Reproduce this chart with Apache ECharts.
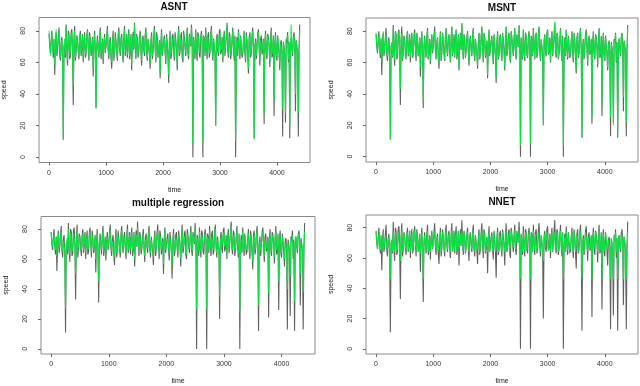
<!DOCTYPE html>
<html>
<head>
<meta charset="utf-8">
<script src="https://cdn.jsdelivr.net/npm/echarts@6/dist/echarts.min.js"></script>
<style>
  html, body { margin: 0; padding: 0; background: #fff; }
  #chart { width: 640px; height: 386px; }
</style>
</head>
<body>
<div id="chart"></div>
<script>
// time step between stored samples
const step = 12.5;
const xTicks = [0, 1000, 2000, 3000, 4000];
const yTicks = [0, 20, 40, 60, 80];
const titles = ["ASNT", "MSNT", "multiple regression", "NNET"];

// observed speed (black)
const observed = [
  78,70,66,74,80,69,63,75,52,71,79,64,68,76,82,65,61,73,76,62,
  11,70,72,63,84,67,58,80,78,62,64,79,81,68,33,74,83,61,66,77,
  75,67,62,76,80,64,69,78,60,73,79,63,65,77,81,70,61,79,74,64,
  68,76,51,72,80,66,31,70,77,69,63,76,82,62,67,75,59,72,78,66,
  70,77,83,68,62,73,76,63,56,72,80,61,66,79,74,66,61,77,82,69,
  64,75,78,67,60,76,83,64,69,78,63,74,81,62,66,78,55,71,79,68,
  85,71,62,78,75,63,67,76,80,67,58,74,77,68,64,77,82,66,61,75,
  74,65,56,73,79,62,66,77,83,69,60,79,76,63,68,74,50,72,81,64,
  63,74,77,66,59,78,72,64,47,73,80,62,65,76,78,67,61,79,74,68,
  55,75,83,64,67,77,79,63,60,80,76,69,64,75,82,66,62,78,78,70,
  84,72,0,76,70,62,81,67,61,79,77,65,63,76,80,72,0,77,75,64,
  82,70,62,77,79,63,66,78,83,68,61,75,74,65,20,74,78,67,64,79,
  81,65,67,76,60,74,80,64,70,78,85,67,63,79,77,62,66,75,82,68,
  61,77,0,68,76,64,81,70,62,77,78,63,65,74,80,66,60,79,74,64,
  53,76,79,63,66,77,82,68,12,70,75,62,63,78,81,69,58,75,77,65,
  68,75,21,73,80,66,62,78,76,70,57,74,82,63,65,77,26,72,79,64,
  61,77,76,65,55,72,74,66,13,73,70,64,22,75,72,79,60,73,12,70,
  75,68,64,76,79,72,29,74,70,67,13,66,84
];

// predicted speed (green), one list per model
const asnt = [
  80,72,64,73,78,70,66,74,58,70,81,66,70,75,79,67,63,72,74,64,
  11,71,75,65,82,68,61,78,76,64,67,77,79,69,45,73,80,63,68,76,
  73,68,64,75,78,66,71,77,62,72,77,65,67,76,80,71,63,77,72,66,
  70,75,56,71,78,68,31,70,75,70,65,75,80,64,69,74,62,71,76,67,
  72,76,81,69,64,72,74,65,60,71,78,63,68,77,72,67,63,76,80,70,
  66,74,76,68,62,75,81,66,70,77,65,73,79,64,68,77,58,70,77,69,
  84,72,64,77,73,65,69,75,78,68,61,73,75,69,66,76,80,67,63,74,
  72,66,59,72,77,64,68,76,81,70,62,77,74,65,70,73,53,71,79,66,
  65,73,75,67,61,76,70,66,52,72,78,64,67,75,76,68,63,77,72,69,
  58,74,81,66,69,76,77,65,62,78,74,70,66,74,80,67,64,77,76,71,
  82,72,9,75,72,64,79,68,63,77,75,66,65,75,78,72,10,76,73,66,
  80,71,64,76,77,65,68,77,81,69,63,74,72,67,20,73,76,68,66,77,
  79,67,69,75,62,73,78,66,72,77,83,68,65,77,75,64,68,74,80,69,
  63,76,10,69,74,66,79,71,64,76,76,65,67,73,78,67,62,77,72,66,
  56,75,77,65,68,76,80,69,11,71,73,64,65,77,79,70,61,74,75,67,
  70,74,27,72,78,67,64,77,74,70,60,73,80,65,67,76,35,72,77,66,
  63,76,74,66,58,72,72,67,30,72,70,65,28,74,73,77,62,72,20,70,
  84,69,66,75,77,72,40,73,72,68,28,67,80
];
const msnt = [
  79,71,67,75,77,68,65,76,60,70,80,65,69,75,78,66,64,74,75,63,
  11,69,73,64,81,66,62,79,77,63,66,78,80,67,43,75,79,62,67,76,
  74,66,63,75,79,65,70,77,63,72,78,64,66,76,79,71,64,78,73,65,
  69,75,57,71,79,67,35,70,76,68,64,75,81,63,68,74,61,71,77,67,
  71,76,80,69,63,72,75,64,59,71,79,62,67,78,73,67,62,76,81,68,
  65,74,77,68,61,75,82,65,69,77,64,73,80,63,67,77,57,70,78,69,
  85,70,63,77,74,64,68,75,79,68,60,73,76,67,65,76,81,67,62,74,
  73,66,58,72,78,63,67,76,82,68,61,78,75,64,69,73,52,71,80,65,
  64,73,76,67,60,77,71,65,50,72,79,63,66,75,77,68,62,78,73,67,
  57,74,82,65,68,76,78,64,61,79,75,70,65,74,81,67,63,77,77,70,
  83,71,7,75,71,63,80,68,62,78,76,66,64,75,79,71,8,76,74,65,
  81,70,63,76,78,64,67,77,82,69,62,74,73,66,20,73,77,68,65,78,
  80,66,68,75,61,73,79,65,71,77,86,68,64,78,76,63,67,74,81,69,
  62,76,7,68,75,65,80,70,63,76,77,64,66,73,79,67,61,78,73,65,
  55,75,78,64,67,76,81,68,12,70,74,63,64,77,80,69,60,74,76,66,
  69,74,25,72,79,66,63,77,75,69,59,74,81,64,66,76,33,71,78,65,
  62,76,75,66,57,71,73,66,25,72,71,65,20,74,72,78,61,72,14,70,
  76,68,65,75,78,72,38,73,71,67,22,67,82
];
const mreg = [
  78,71,68,73,76,70,66,74,62,70,77,67,70,75,78,67,65,72,73,65,
  27,70,74,66,80,68,63,77,75,65,68,77,78,69,50,73,79,64,69,75,
  72,68,66,75,77,66,71,76,64,72,76,66,68,75,78,71,65,76,72,66,
  70,74,60,71,77,68,45,70,74,70,66,74,79,65,69,74,63,71,75,68,
  71,75,79,69,65,72,73,66,61,71,77,64,68,76,72,67,64,75,79,70,
  66,73,75,68,63,74,80,66,70,76,66,72,78,65,68,76,60,70,76,69,
  81,71,65,76,73,66,69,74,77,68,62,72,74,69,67,75,79,68,64,73,
  72,67,61,71,76,65,68,75,79,70,63,76,73,66,70,72,57,71,78,66,
  66,72,74,68,63,75,70,66,55,71,77,65,67,74,75,68,64,76,71,69,
  60,73,80,67,69,75,76,66,63,77,73,70,67,73,79,68,65,76,75,71,
  81,71,26,74,71,65,78,69,64,76,74,67,66,74,77,71,26,75,73,66,
  79,70,65,75,76,66,68,76,80,69,64,73,72,67,35,72,75,68,67,76,
  78,68,69,74,63,72,77,67,71,76,82,69,66,76,74,65,68,73,79,70,
  64,75,25,69,73,66,78,71,65,75,75,66,68,72,77,68,63,76,71,66,
  58,74,76,66,68,75,79,69,29,70,72,65,66,76,78,70,62,73,74,67,
  70,73,37,71,77,68,65,76,73,70,61,73,79,66,67,75,45,71,76,67,
  64,75,73,67,60,71,71,67,40,71,70,66,48,73,71,76,63,71,32,70,
  75,69,66,74,77,72,50,72,70,68,38,68,78
];
const nnet = [
  77,71,66,73,76,70,65,74,64,70,77,66,70,75,76,67,65,72,74,64,
  46,70,72,64,78,67,64,77,76,64,67,77,77,68,58,73,78,64,68,76,
  73,67,65,75,77,65,70,77,64,72,76,64,67,76,78,70,64,77,72,64,
  69,75,63,71,77,66,46,70,75,69,65,75,78,64,68,74,64,71,76,66,
  70,76,78,68,65,72,74,64,64,71,77,64,67,77,73,66,64,76,78,69,
  66,74,76,67,64,75,78,64,70,77,65,73,77,64,68,77,64,70,76,68,
  78,70,65,77,74,64,68,75,77,67,64,73,75,68,66,76,78,66,64,74,
  73,65,64,72,76,64,67,76,78,69,64,77,74,64,69,73,64,71,77,64,
  66,73,75,66,64,77,71,64,64,72,77,64,67,75,76,67,64,77,72,68,
  64,74,78,64,68,76,76,64,64,78,74,69,67,74,78,66,65,77,76,70,
  78,72,46,75,71,64,77,67,64,77,75,65,66,75,77,71,46,76,73,64,
  78,70,65,76,76,64,68,77,78,68,64,74,72,65,58,73,76,67,66,77,
  78,65,68,76,64,73,77,64,70,77,78,67,65,77,75,64,67,74,78,68,
  64,76,46,68,74,64,78,70,65,76,76,64,67,73,77,66,64,77,72,64,
  64,75,76,64,67,76,78,68,46,70,73,64,65,77,77,69,64,74,75,65,
  69,74,46,73,77,66,65,77,74,70,64,74,78,64,67,76,46,72,76,64,
  64,76,74,65,64,72,72,66,46,73,70,64,46,75,72,77,64,73,46,70,
  75,68,66,76,77,72,46,74,71,67,46,66,77
];

const predicted = [asnt, msnt, mreg, nnet];
const rects = [
  { left: 38, top: 17.5, width: 272, height: 145, titleTop: 2 },
  { left: 366, top: 18, width: 272, height: 144, titleTop: 3 },
  { left: 41, top: 216.5, width: 274, height: 141, titleTop: 198 },
  { left: 366, top: 215, width: 272, height: 144, titleTop: 197 }
];

const toPairs = (arr) => arr.map((v, i) => [i * step, v]);
const font = "Liberation Sans, Arial, sans-serif";

const chart = echarts.init(document.getElementById("chart"), null, { renderer: "canvas" });

const option = {
  animation: false,
  backgroundColor: "#fff",
  title: rects.map((r, i) => ({
    text: titles[i],
    left: r.left + r.width / 2,
    top: r.titleTop,
    padding: 0,
    textAlign: "center",
    textStyle: { fontFamily: font, fontSize: 10, fontWeight: "bold", color: "#111" }
  })),
  grid: rects.map((r) => ({
    left: r.left, top: r.top, width: r.width, height: r.height,
    show: true, borderColor: "#8a8a8a", borderWidth: 1, backgroundColor: "transparent"
  })),
  xAxis: rects.map((r, i) => ({
    type: "value",
    gridIndex: i,
    min: -176,
    max: 4580,
    name: "time",
    nameLocation: "middle",
    nameGap: 24,
    nameTextStyle: { fontFamily: font, fontSize: 7, color: "#222" },
    axisLine: { show: false, onZero: false },
    splitLine: { show: false },
    axisTick: { show: true, customValues: xTicks, length: 3, lineStyle: { color: "#666" } },
    axisLabel: { customValues: xTicks, formatter: (v) => String(v), fontFamily: font, fontSize: 7, color: "#333", margin: 7 }
  })),
  yAxis: rects.map((r, i) => ({
    type: "value",
    gridIndex: i,
    min: -3.4,
    max: 88.4,
    name: "speed",
    nameLocation: "middle",
    nameRotate: 90,
    nameGap: 31,
    nameTextStyle: { fontFamily: font, fontSize: 7, color: "#222" },
    axisLine: { show: false, onZero: false },
    splitLine: { show: false },
    axisTick: { show: true, customValues: yTicks, length: 3, lineStyle: { color: "#666" } },
    axisLabel: { customValues: yTicks, formatter: (v) => String(v), rotate: 90, fontFamily: font, fontSize: 7, color: "#333", margin: 12 }
  })),
  series: []
};

predicted.forEach((pred, i) => {
  option.series.push({
    type: "line",
    xAxisIndex: i,
    yAxisIndex: i,
    data: toPairs(observed),
    showSymbol: false,
    silent: true,
    lineStyle: { color: "rgba(30,30,30,0.7)", width: 1.1 }
  });
  option.series.push({
    type: "line",
    xAxisIndex: i,
    yAxisIndex: i,
    data: toPairs(pred),
    showSymbol: false,
    silent: true,
    lineStyle: { color: "rgba(0,240,60,0.88)", width: 1.1 }
  });
});

chart.setOption(option);
</script>
</body>
</html>
